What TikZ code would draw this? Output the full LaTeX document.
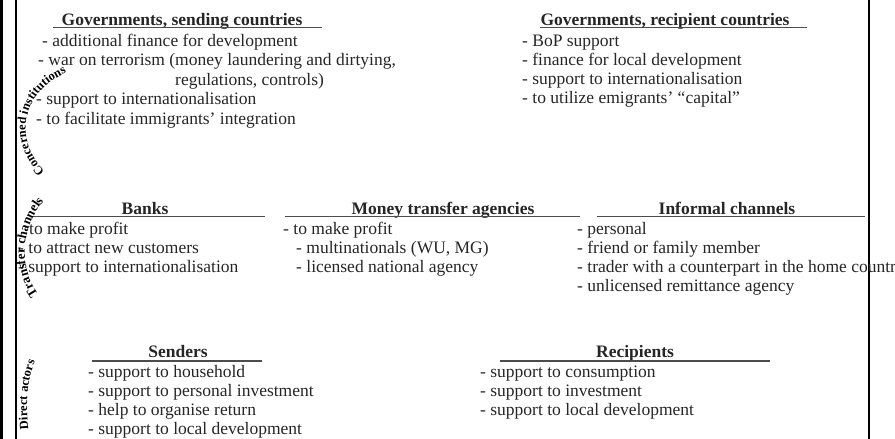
\documentclass[tikz,border=0pt]{standalone}
\usepackage{fontspec}
\setmainfont{Liberation Serif}
\usetikzlibrary{decorations.text}
\tikzset{
  item/.style={anchor=base west, inner sep=0pt, text=black!85, font=\fontsize{17.5}{19}\selectfont},
  head/.style={anchor=base, inner sep=0pt, text=black!85, font=\fontsize{17.5}{19}\selectfont\bfseries},
  rule/.style={line width=1.6pt, black!70},
  arctext/.style={decorate, decoration={text along path, text align=center, text={#1}}}
}
\begin{document}
\begin{tikzpicture}[x=1pt, y=-1pt]
  \useasboundingbox (0,0) rectangle (895,439);
  % frame
  \fill (0,0) rectangle (3.3,439);
  \draw[line width=1.5pt] (16,0) -- (16,439);
  \draw[line width=2pt] (869,0) -- (869,439);
  % governments, sending countries
  \node[head] at (182,25) (gsHead) {Governments, sending countries};
  \coordinate (gsL) at (53,27.5);
  \coordinate (gsR) at (322,27.5);
  \draw[rule] (gsL) -- (gsR);
  \node[item] at (42,46) (gs1) {- additional finance for development};
  \node[item] at (38,65.5) (gs2) {- war on terrorism (money laundering and dirtying,};
  \node[item] at (175,85) (gs3) {regulations, controls)};
  \node[item] at (36,104.5) (gs4) {- support to internationalisation};
  \node[item] at (36,124) (gs5) {- to facilitate immigrants' integration};
  % governments, recipient countries
  \node[head] at (665,25) (grHead) {Governments, recipient countries};
  \coordinate (grL) at (540,27.5);
  \coordinate (grR) at (807,27.5);
  \draw[rule] (grL) -- (grR);
  \node[item] at (522,46) (gr1) {- BoP support};
  \node[item] at (522,65) (gr2) {- finance for local development};
  \node[item] at (522,84) (gr3) {- support to internationalisation};
  \node[item] at (522,103) (gr4) {- to utilize emigrants' ``capital''};
  % banks
  \node[head] at (145,214) (bkHead) {Banks};
  \coordinate (bkL) at (32,216.5);
  \coordinate (bkR) at (265,216.5);
  \draw[rule] (bkL) -- (bkR);
  \node[item] at (29,234) (bk1) {to make profit};
  \node[item] at (18,253) (bk2) {- to attract new customers};
  \node[item] at (18,272) (bk3) {- support to internationalisation};
  % money transfer agencies
  \node[head] at (443,214) (mtHead) {Money transfer agencies};
  \coordinate (mtL) at (285,216.5);
  \coordinate (mtR) at (580,216.5);
  \draw[rule] (mtL) -- (mtR);
  \node[item] at (283,234) (mt1) {- to make profit};
  \node[item] at (296,253) (mt2) {- multinationals (WU, MG)};
  \node[item] at (296,272) (mt3) {- licensed national agency};
  % informal channels
  \node[head] at (727,214) (icHead) {Informal channels};
  \coordinate (icL) at (597,216.5);
  \coordinate (icR) at (865,216.5);
  \draw[rule] (icL) -- (icR);
  \node[item] at (577,234) (ic1) {- personal};
  \node[item] at (577,253) (ic2) {- friend or family member};
  \node[item] at (577,272) (ic3) {- trader with a counterpart in the home country};
  \node[item] at (577,291) (ic4) {- unlicensed remittance agency};
  % senders
  \node[head] at (178,357) (sdHead) {Senders};
  \coordinate (sdL) at (92,361);
  \coordinate (sdR) at (262,361);
  \draw[rule] (sdL) -- (sdR);
  \node[item] at (88,377) (sd1) {- support to household};
  \node[item] at (88,396) (sd2) {- support to personal investment};
  \node[item] at (88,415) (sd3) {- help to organise return};
  \node[item] at (88,434) (sd4) {- support to local development};
  % recipients
  \node[head] at (635,357) (rcHead) {Recipients};
  \coordinate (rcL) at (500,361);
  \coordinate (rcR) at (770,361);
  \draw[rule] (rcL) -- (rcR);
  \node[item] at (480,377) (rc1) {- support to consumption};
  \node[item] at (480,396) (rc2) {- support to investment};
  \node[item] at (480,415) (rc3) {- support to local development};
  % curved labels
  \path[arctext={|\fontsize{12.5}{12.5}\selectfont\bfseries|Concerned institutions}]
    (46,172) .. controls (16,145) and (16,95) .. (68,72);
  \path[arctext={|\fontsize{13}{13}\selectfont\bfseries|Transfer channels}]
    (48,306) .. controls (16,275) and (16,225) .. (54,190);
  \path[arctext={|\fontsize{12.5}{12.5}\selectfont\bfseries|Direct actors}]
    (30,444) .. controls (25,405) and (25,375) .. (42,348);
\end{tikzpicture}
\end{document}
